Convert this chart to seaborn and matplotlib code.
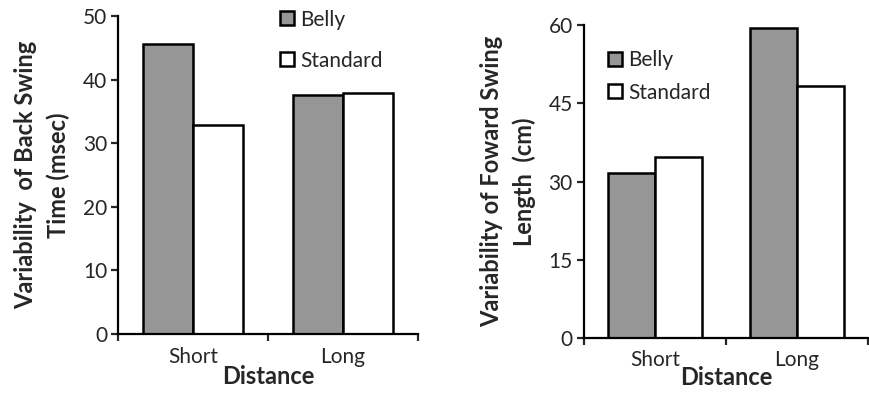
import matplotlib
matplotlib.use("Agg")
import matplotlib.pyplot as plt
import seaborn as sns
import pandas as pd
from matplotlib.ticker import FixedLocator

# data
distance = ["Short", "Long"]
grips = ["Belly", "Standard"]
back_time_belly = [45.6, 37.6]
back_time_standard = [32.9, 37.9]
fwd_length_belly = [31.7, 59.4]
fwd_length_standard = [34.7, 48.4]

sns.set_style("white")
plt.rcParams['font.family'] = ['Lato', 'DejaVu Sans']

def make_df(belly, standard):
    return pd.DataFrame({
        "Distance": distance * 2,
        "Grip": [grips[0]] * 2 + [grips[1]] * 2,
        "value": belly + standard,
    })

fig = plt.figure(figsize=(8.69, 3.93), dpi=100)
ax1 = fig.add_axes([0.136, 0.150, 0.345, 0.809])
ax2 = fig.add_axes([0.672, 0.140, 0.327, 0.796])

palette = {"Belly": "#969696", "Standard": "white"}

def draw(ax, df, ymax, step, ylabel, legend_xy, spacing, xpad):
    sns.barplot(data=df, x="Distance", y="value", hue="Grip", order=distance,
                hue_order=grips, palette=palette, edgecolor="black",
                linewidth=1.8, width=0.667, gap=0, saturation=1, ax=ax)
    ax.set_ylim(0, ymax)
    ax.set_xlim(-0.5, 1.5)
    ax.set_yticks(range(0, ymax + 1, step))
    ax.tick_params(axis="y", direction="out", length=5, width=1.6,
                   labelsize=15, left=True, pad=3)
    ax.tick_params(axis="x", which="major", length=0, labelsize=15, pad=9)
    ax.xaxis.set_minor_locator(FixedLocator([-0.5, 0.5, 1.5]))
    ax.tick_params(axis="x", which="minor", direction="out", length=5,
                   width=1.6, bottom=True)
    for s in ["top", "right"]:
        ax.spines[s].set_visible(False)
    for s in ["left", "bottom"]:
        ax.spines[s].set_linewidth(1.6)
        ax.spines[s].set_color("black")
    ax.set_xlabel("Distance", fontsize=17, fontweight="bold", labelpad=xpad)
    ax.set_ylabel(ylabel, fontsize=17, fontweight="bold", labelpad=9,
                  linespacing=1.5)
    h, l = ax.get_legend_handles_labels()
    ax.legend(h, l, loc="upper left", bbox_to_anchor=legend_xy, frameon=False,
              fontsize=15, handlelength=0.65, handleheight=0.65,
              handletextpad=0.3, labelspacing=spacing, borderpad=0,
              borderaxespad=0)

draw(ax1, make_df(back_time_belly, back_time_standard), 50, 10,
     "Variability  of Back Swing\nTime (msec)", (0.54, 1.02), 1.0, -1)
draw(ax2, make_df(fwd_length_belly, fwd_length_standard), 60, 15,
     "Variability of Foward Swing\nLength  (cm)", (0.085, 0.92), 0.6, -3)

fig.savefig("out.png", dpi=100)
